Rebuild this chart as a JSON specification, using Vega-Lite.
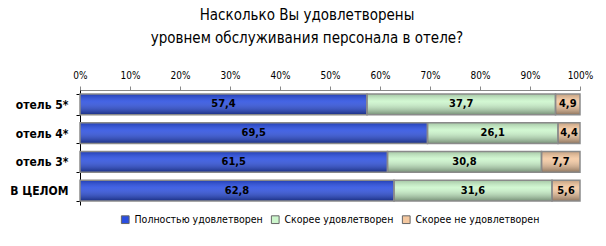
{
  "$schema": "https://vega.github.io/schema/vega-lite/v6.json",
  "autosize": {"type": "none"},
  "width": 500,
  "height": 115,
  "padding": {"left": 80, "top": 90, "right": 26, "bottom": 41},
  "background": "white",
  "config": {
    "font": "DejaVu Sans Condensed, Liberation Sans, sans-serif",
    "view": {"stroke": null},
    "locale": {"number": {"decimal": ",", "thousands": " ", "grouping": [3], "currency": ["", ""]}}
  },
  "title": {
    "text": ["Насколько Вы удовлетворены", "уровнем обслуживания персонала в отеле?"],
    "fontSize": 15,
    "fontWeight": "normal",
    "lineHeight": 23,
    "offset": 24,
    "anchor": "middle",
    "dx": -23,
    "color": "black"
  },
  "data": {
    "values": [
      {"hotel": "отель 5*", "cat": "Полностью удовлетворен", "k": 1, "v": 57.4},
      {"hotel": "отель 5*", "cat": "Скорее удовлетворен", "k": 2, "v": 37.7},
      {"hotel": "отель 5*", "cat": "Скорее не удовлетворен", "k": 3, "v": 4.9},
      {"hotel": "отель 4*", "cat": "Полностью удовлетворен", "k": 1, "v": 69.5},
      {"hotel": "отель 4*", "cat": "Скорее удовлетворен", "k": 2, "v": 26.1},
      {"hotel": "отель 4*", "cat": "Скорее не удовлетворен", "k": 3, "v": 4.4},
      {"hotel": "отель 3*", "cat": "Полностью удовлетворен", "k": 1, "v": 61.5},
      {"hotel": "отель 3*", "cat": "Скорее удовлетворен", "k": 2, "v": 30.8},
      {"hotel": "отель 3*", "cat": "Скорее не удовлетворен", "k": 3, "v": 7.7},
      {"hotel": "В ЦЕЛОМ", "cat": "Полностью удовлетворен", "k": 1, "v": 62.8},
      {"hotel": "В ЦЕЛОМ", "cat": "Скорее удовлетворен", "k": 2, "v": 31.6},
      {"hotel": "В ЦЕЛОМ", "cat": "Скорее не удовлетворен", "k": 3, "v": 5.6}
    ]
  },
  "transform": [
    {"stack": "v", "groupby": ["hotel"], "sort": [{"field": "k", "order": "ascending"}], "as": ["x0", "x1"]},
    {"calculate": "(datum.x0 + datum.x1) / 2", "as": "mid"}
  ],
  "encoding": {
    "y": {
      "field": "hotel",
      "type": "nominal",
      "sort": ["отель 5*", "отель 4*", "отель 3*", "В ЦЕЛОМ"],
      "scale": {"paddingInner": 0.28, "paddingOuter": 0.14},
      "axis": {
        "title": null,
        "labelFontSize": 12,
        "labelFontWeight": "bold",
        "labelColor": "black",
        "labelPadding": 8,
        "domainColor": "black",
        "tickColor": "black",
        "tickBand": "extent",
        "tickSize": 4,
        "domainWidth": 1
      }
    }
  },
  "layer": [
    {
      "mark": {"type": "bar"},
      "encoding": {
        "x": {
          "field": "x0",
          "type": "quantitative",
          "scale": {"domain": [0, 100], "nice": false},
          "axis": {
            "orient": "top",
            "values": [0, 10, 20, 30, 40, 50, 60, 70, 80, 90, 100],
            "labelExpr": "datum.value + '%'",
            "labelFontSize": 10,
            "labelColor": "black",
            "title": null,
            "grid": false,
            "domainColor": "#888888",
            "tickColor": "#888888",
            "tickSize": 4,
            "labelPadding": 6,
            "labelFlush": false
          }
        },
        "x2": {"field": "x1"},
        "color": {
          "field": "cat",
          "type": "nominal",
          "sort": ["Полностью удовлетворен", "Скорее удовлетворен", "Скорее не удовлетворен"],
          "scale": {"range": ["#2a4ee0", "#ccf6cc", "#f4c8a0"]},
          "legend": {
            "orient": "none",
            "legendX": 40,
            "legendY": 124,
            "direction": "horizontal",
            "title": null,
            "labelFontSize": 10.5,
            "labelColor": "black",
            "symbolType": "square",
            "symbolSize": 60,
            "symbolStrokeColor": "#666666",
            "symbolStrokeWidth": 1,
            "columnPadding": 6,
            "labelOffset": 4
          }
        }
      }
    },
    {
      "mark": {
        "type": "bar",
        "stroke": "#8a8a8a",
        "strokeWidth": 1.5,
        "fill": {
          "gradient": "linear",
          "x1": 0, "y1": 0, "x2": 0, "y2": 1,
          "stops": [
            {"offset": 0, "color": "rgba(0,0,0,0.2)"},
            {"offset": 0.35, "color": "rgba(255,255,255,0.12)"},
            {"offset": 1, "color": "rgba(0,0,0,0.42)"}
          ]
        }
      },
      "encoding": {
        "x": {"field": "x0", "type": "quantitative"},
        "x2": {"field": "x1"}
      }
    },
    {
      "mark": {"type": "text", "fontSize": 11, "fontWeight": "bold", "color": "black"},
      "encoding": {
        "x": {"field": "mid", "type": "quantitative"},
        "text": {"field": "v", "type": "quantitative", "format": ".1f"}
      }
    }
  ]
}
